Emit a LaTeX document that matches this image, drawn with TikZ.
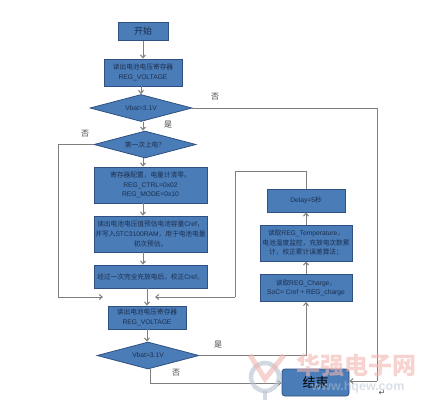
\documentclass[tikz,border=0pt]{standalone}
\usepackage{fontspec}
\setmainfont{Liberation Sans}
\newfontfamily\cjk{Noto Sans CJK SC}
\newfontfamily\symb{DejaVu Sans}
\newcommand{\zh}[1]{{\cjk #1}}
\usetikzlibrary{shapes.geometric,arrows.meta}
\definecolor{boxfill}{HTML}{4A7CB8}
\definecolor{boxline}{HTML}{2F5080}
\definecolor{boxtext}{HTML}{1B2F4D}
\definecolor{wirecol}{HTML}{7F7F7F}
\definecolor{stampred}{HTML}{F2B5B0}
\definecolor{stampgrey}{HTML}{B4C0CF}
\begin{document}
\begin{tikzpicture}[x=1pt,y=-1pt,>={Straight Barb[length=3pt,width=5pt]},
	font=\fontsize{6.7}{9.6}\selectfont,
	box/.style={draw=boxline,fill=boxfill,line width=0.8pt,text=boxtext,align=center,inner sep=0pt},
	ask/.style={diamond,draw=boxline,fill=boxfill,line width=0.8pt,text=boxtext,inner sep=0pt,aspect=3.8,minimum width=102pt,minimum height=27pt},
	wire/.style={draw=wirecol,line width=1pt},
	tag/.style={text=black!75,font=\fontsize{8}{9}\selectfont\cjk}]
	\useasboundingbox (0,0) rectangle (422,402);
	\node[box,minimum width=50pt,minimum height=18pt,font=\fontsize{9}{10}\selectfont\cjk] (start) at (143,31.5) {开始};
	\node[box,minimum width=78pt,minimum height=27pt] (read) at (143,72.5) {\zh{读出电池电压寄存器}\\REG\_VOLTAGE};
	\node[ask] (vbat) at (141,108) {Vbat>3.1V};
	\node[ask,font=\fontsize{6.7}{8}\selectfont\cjk] (first) at (145,144.5) {第一次上电？};
	\node[box,minimum width=113pt,minimum height=36pt] (cfg) at (150.5,185) {\zh{寄存器配置，电量计清零。}\\REG\_CTRL=0x02\\REG\_MODE=0x10};
	\node[box,minimum width=113pt,minimum height=36pt] (est) at (150.5,234) {\zh{读出电池电压值预估电池容量}Cref\zh{，}\\\zh{并写入}STC3100RAM\zh{，用于电池电量}\\\zh{初次预估。}};
	\node[box,minimum width=113pt,minimum height=23pt] (cal) at (150.5,276.5) {\zh{经过一次完全充放电后，校正}Cref\zh{。}};
	\node[box,minimum width=78pt,minimum height=23pt] (readb) at (147,317.5) {\zh{读出电池电压寄存器}\\REG\_VOLTAGE};
	\node[ask] (vbatb) at (148,355.5) {Vbat>3.1V};
	\node[box,minimum width=78pt,minimum height=23pt] (delay) at (306,200.5) {Delay=5\zh{秒}};
	\node[box,minimum width=92pt,minimum height=36pt] (temp) at (306,243) {\zh{读取}REG\_Temperature\zh{，}\\\zh{电池温度监控，充放电次数累}\\\zh{计，校正累计误差算法；}};
	\node[box,minimum width=92pt,minimum height=27pt] (charge) at (306,288) {\zh{读取}REG\_Charge\zh{，}\\SoC= Cref + REG\_charge};
	\node[box,rounded corners=3pt,minimum width=67pt,minimum height=27pt,text=black,font=\fontsize{13}{14}\selectfont\cjk] (stop) at (315.5,382.5) {结束};
	\coordinate (leftcol) at (58,297);
	\coordinate (joinl) at (103,297);
	\coordinate (joinr) at (155,297);
	\coordinate (backcol) at (235,171);
	\coordinate (backfoot) at (235,297);
	\coordinate (rightcol) at (377,381);
	\coordinate (nodrop) at (150,383);
	\draw[wire,->] (start) -- (read);
	\draw[wire,->] (vbat.north |- read.south) -- (vbat.north);
	\draw[wire,->] (start.south |- vbat.south) -- (start.south |- first.north);
	\draw[wire,->] (start.south |- first.south) -- (start.south |- cfg.north);
	\draw[wire,->] (start.south |- cfg.south) -- (start.south |- est.north);
	\draw[wire,->] (start.south |- est.south) -- (start.south |- cal.north);
	\draw[wire,->] (readb.north |- cal.south) -- (readb.north);
	\draw[wire,->] (readb) -- (readb |- vbatb.north);
	\draw[wire] (first.west) -| (leftcol);
	\draw[wire,->] (leftcol) -- (joinl);
	\draw[wire] (delay.north) |- (backcol);
	\draw[wire] (backcol) -- (backfoot);
	\draw[wire,->] (backfoot) -- (joinr);
	\draw[wire] (vbat.east) -| (rightcol);
	\draw[wire,->] (rightcol) -- (rightcol -| stop.east);
	\draw[wire,->] (vbatb.east) -| (charge.south);
	\draw[wire] (nodrop |- vbatb.south) -- (nodrop);
	\draw[wire,->] (nodrop) -- (nodrop -| stop.west);
	\draw[wire,->] (charge) -- (temp);
	\draw[wire,->] (temp) -- (delay);
	\node[tag] (nofirst) at (215,97) {否};
	\node[tag] (yesfirst) at (168,125) {是};
	\node[tag] (noon) at (85,134) {否};
	\node[tag] (yesagain) at (218,345) {是};
	\node[tag] (noagain) at (176,373) {否};
	\node[text=black!70,font=\fontsize{8}{9}\selectfont\symb] (retmark) at (382,393) {↵};
	\begin{scope}[opacity=0.6]
		\draw[line width=4.5pt,draw=stampgrey] (265,377) circle (14);
		\draw[line width=4pt,draw=stampgrey] (265,391) -- (265,400);
		\draw[line width=5pt,draw=stampred] (250,355) -- (265,379) -- (284,355);
		\node[text=stampred,font=\fontsize{24}{24}\selectfont\bfseries\cjk,inner sep=0pt] (brand) at (356,365) {华强电子网};
		\node[text=stampgrey,text opacity=0.5,font=\fontsize{12.5}{13}\selectfont\bfseries,inner sep=0pt] (site) at (358,387) {www.hqew.com};
	\end{scope}
\end{tikzpicture}
\end{document}
